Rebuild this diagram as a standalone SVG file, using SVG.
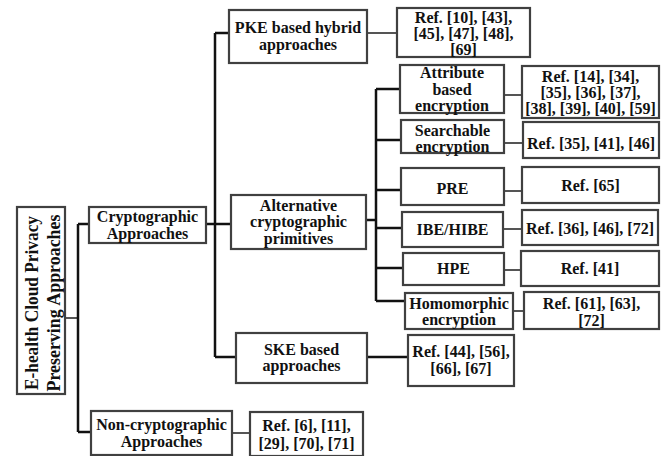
<svg xmlns="http://www.w3.org/2000/svg" width="662" height="456" viewBox="0 0 662 456">
<style>
.box{fill:#fff;stroke:#404040;stroke-width:2.2}
.t{font-family:"Liberation Serif","Times New Roman",serif;font-weight:bold;font-size:16px;fill:#111;text-anchor:middle}
.c{fill:none;stroke:#111;stroke-width:2.5}
.g{fill:none;stroke:#555;stroke-width:2}
</style>
<rect width="662" height="456" fill="#fff"/>
<g id="connectors">
<path class="g" d="M65,318H78"/>
<path class="c" d="M78,224V432M78,224H89M78,432H91"/>
<path class="c" d="M206,224H231"/>
<path class="c" d="M215,33V357M215,33H229M215,357H236"/>
<path class="g" d="M367,33H397"/>
<path class="c" d="M366,220H376"/>
<path class="c" d="M376,89V301M376,89H400M376,140H401M376,190H401M376,228H402M376,268H403M376,301H405"/>
<path class="g" d="M504,95H522M504,143H523M504,191H522M503,229H522M504,270H521M513,311H524"/>
<path class="c" d="M367,357H408"/>
<path class="g" d="M232,433H250"/>
</g>
<g id="root">
<rect class="box" x="17" y="207" width="48" height="187"/>
<text class="t" style="font-size:19px" transform="translate(38,303) rotate(-90)" x="0" y="0" textLength="174" lengthAdjust="spacingAndGlyphs">E-health Cloud Privacy</text>
<text class="t" style="font-size:19px" transform="translate(60,303) rotate(-90)" x="0" y="0" textLength="177" lengthAdjust="spacingAndGlyphs">Preserving Approaches</text>
</g>
<g id="crypto">
<rect class="box" x="89" y="207" width="117" height="36"/>
<text class="t" x="147.5" y="222">Cryptographic</text>
<text class="t" x="147.5" y="238.5">Approaches</text>
</g>
<g id="noncrypto">
<rect class="box" x="91" y="411" width="141" height="44"/>
<text class="t" x="161.5" y="430">Non-cryptographic</text>
<text class="t" x="161.5" y="446.5">Approaches</text>
</g>
<g id="noncrypto-ref">
<rect class="box" x="250" y="412" width="113" height="44"/>
<text class="t" x="306.5" y="431">Ref. [6], [11],</text>
<text class="t" x="306.5" y="449">[29], [70], [71]</text>
</g>
<g id="pke">
<rect class="box" x="229" y="10" width="138" height="53"/>
<text class="t" x="298" y="33">PKE based hybrid</text>
<text class="t" x="298" y="49.5">approaches</text>
</g>
<g id="pke-ref">
<rect class="box" x="397" y="8" width="133" height="49"/>
<text class="t" x="463.5" y="23">Ref. [10], [43],</text>
<text class="t" x="463.5" y="39">[45], [47], [48],</text>
<text class="t" x="463.5" y="55">[69]</text>
</g>
<g id="alternative">
<rect class="box" x="231" y="195" width="135" height="54"/>
<text class="t" x="298.5" y="210.5">Alternative</text>
<text class="t" x="298.5" y="227">cryptographic</text>
<text class="t" x="298.5" y="243.5">primitives</text>
</g>
<g id="abe">
<rect class="box" x="400" y="65" width="104" height="48"/>
<text class="t" x="452" y="78">Attribute</text>
<text class="t" x="452" y="94.5">based</text>
<text class="t" x="452" y="111">encryption</text>
</g>
<g id="abe-ref">
<rect class="box" x="522" y="66" width="137" height="52"/>
<text class="t" x="590.5" y="82">Ref. [14], [34],</text>
<text class="t" x="590.5" y="98">[35], [36], [37],</text>
<text class="t" x="590.5" y="114">[38], [39], [40], [59]</text>
</g>
<g id="searchable">
<rect class="box" x="401" y="120" width="103" height="33"/>
<text class="t" x="452.5" y="136">Searchable</text>
<text class="t" x="452.5" y="152">encryption</text>
</g>
<g id="searchable-ref">
<rect class="box" x="523" y="122" width="136" height="36"/>
<text class="t" x="591" y="148.5">Ref. [35], [41], [46]</text>
</g>
<g id="pre">
<rect class="box" x="401" y="168" width="103" height="37"/>
<text class="t" x="452.5" y="193.5">PRE</text>
</g>
<g id="pre-ref">
<rect class="box" x="522" y="167" width="137" height="36"/>
<text class="t" x="590.5" y="190.5">Ref. [65]</text>
</g>
<g id="ibe">
<rect class="box" x="402" y="212" width="101" height="35"/>
<text class="t" x="452.5" y="234.5">IBE/HIBE</text>
</g>
<g id="ibe-ref">
<rect class="box" x="522" y="210" width="136" height="35"/>
<text class="t" x="590" y="233.5">Ref. [36], [46], [72]</text>
</g>
<g id="hpe">
<rect class="box" x="403" y="253" width="101" height="32"/>
<text class="t" x="453.5" y="273.5">HPE</text>
</g>
<g id="hpe-ref">
<rect class="box" x="521" y="251" width="138" height="35"/>
<text class="t" x="590" y="273.5">Ref. [41]</text>
</g>
<g id="homomorphic">
<rect class="box" x="405" y="293" width="108" height="36"/>
<text class="t" x="459" y="308.5">Homomorphic</text>
<text class="t" x="459" y="324.5">encryption</text>
</g>
<g id="homomorphic-ref">
<rect class="box" x="524" y="292" width="135" height="37"/>
<text class="t" x="591.5" y="309">Ref. [61], [63],</text>
<text class="t" x="591.5" y="325.5">[72]</text>
</g>
<g id="ske">
<rect class="box" x="236" y="333" width="131" height="50"/>
<text class="t" x="301.5" y="354.5">SKE based</text>
<text class="t" x="301.5" y="371">approaches</text>
</g>
<g id="ske-ref">
<rect class="box" x="408" y="335" width="106" height="51"/>
<text class="t" x="461" y="357">Ref. [44], [56],</text>
<text class="t" x="461" y="374">[66], [67]</text>
</g>
</svg>
